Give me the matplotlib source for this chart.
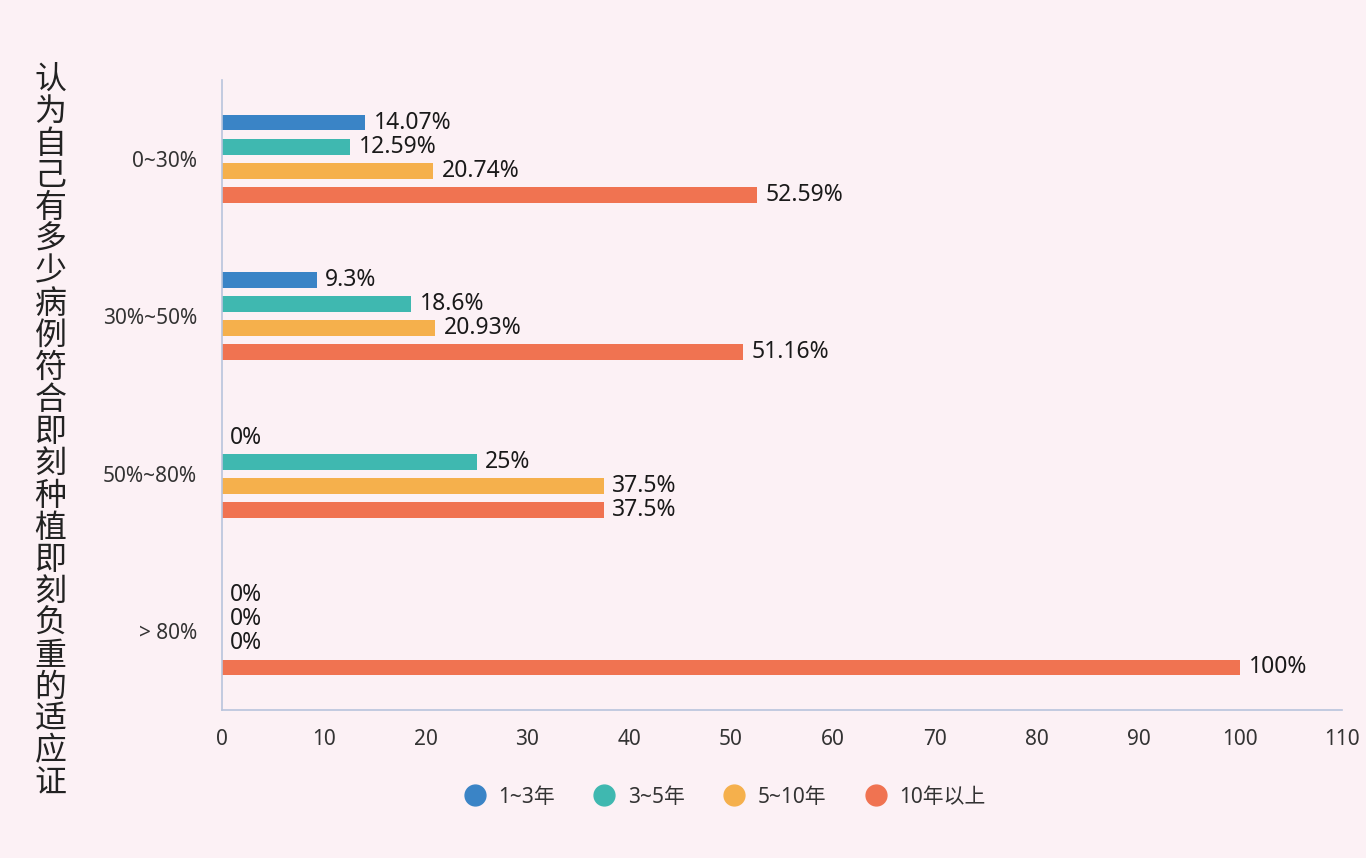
import numpy as np
import matplotlib.pyplot as plt

plt.rcParams['font.family'] = ['Noto Sans', 'Noto Sans CJK SC', 'DejaVu Sans']

# data
categories = ['0~30%', '30%~50%', '50%~80%', '> 80%']
series_names = ['1~3年', '3~5年', '5~10年', '10年以上']
values = [
    [14.07, 9.3, 0, 0],
    [12.59, 18.6, 25, 0],
    [20.74, 20.93, 37.5, 0],
    [52.59, 51.16, 37.5, 100],
]
labels = [
    ['14.07%', '9.3%', '0%', '0%'],
    ['12.59%', '18.6%', '25%', '0%'],
    ['20.74%', '20.93%', '37.5%', '0%'],
    ['52.59%', '51.16%', '37.5%', '100%'],
]
colors = ['#3a84c6', '#3fb8b0', '#f5b04c', '#f07351']
ylabel_text = '认为自己有多少病例符合即刻种植即刻负重的适应证'

bg = '#fcf1f5'
fig = plt.figure(figsize=(13.66, 8.58), dpi=100, facecolor=bg)
ax = fig.add_axes([0.1625, 0.1725, 0.82, 0.7343])
ax.set_facecolor(bg)

y = np.arange(len(categories))
step = 0.153
offsets = (np.arange(4) - 1.5) * step
for i in range(4):
    ypos = y + offsets[i]
    ax.barh(ypos, values[i], height=0.10, color=colors[i], label=series_names[i])
    for j in range(len(categories)):
        ax.annotate(labels[i][j], (values[i][j], ypos[j]), xytext=(6, 0),
                    textcoords='offset points', va='center', ha='left',
                    fontsize=16.5, color='#1a1a1a')

ax.set_xlim(0, 110)
ax.set_ylim(3.5, -0.5)
ax.set_xticks(np.arange(0, 111, 10))
ax.set_yticks(y)
ax.set_yticklabels(categories)
ax.tick_params(axis='both', length=0, labelsize=15, colors='#333333')
ax.tick_params(axis='x', pad=14)
ax.tick_params(axis='y', pad=18)
for s in ['top', 'right']:
    ax.spines[s].set_visible(False)
for s in ['left', 'bottom']:
    ax.spines[s].set_color('#b8c4dc')
    ax.spines[s].set_linewidth(1.2)

# vertical axis title
fig.text(0.037, 0.497, '\n'.join(ylabel_text), ha='center', va='center',
         fontsize=23, color='#222222', linespacing=1.0, fontweight='light',
         family='Noto Sans CJK SC')

handles = [plt.Line2D([], [], marker='o', linestyle='', markersize=15, color=c)
           for c in colors]
fig.legend(handles, series_names, loc='center', bbox_to_anchor=(0.527, 0.071),
           ncol=4, frameon=False, fontsize=15, handletextpad=0.15,
           columnspacing=1.35, labelcolor='#333333')

fig.savefig('out.png', dpi=100, facecolor=bg)
